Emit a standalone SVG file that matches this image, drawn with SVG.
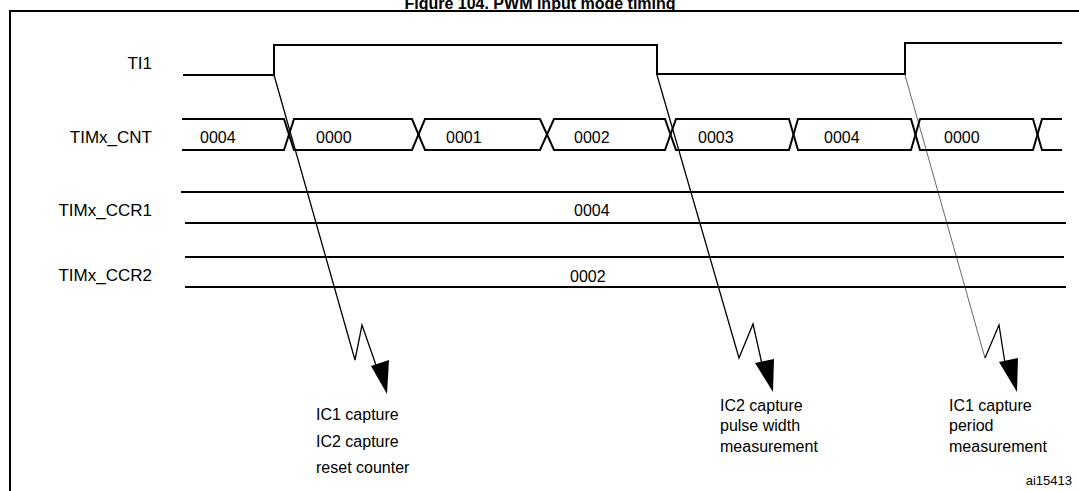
<svg xmlns="http://www.w3.org/2000/svg" width="1079" height="491" viewBox="0 0 1079 491">
<style>
text{font-family:"Liberation Sans",Arial,sans-serif;font-size:16px;fill:#000}
.l{font-size:17px}
.s{fill:none;stroke:#000;stroke-width:2}
.c{fill:none;stroke:#000;stroke-width:1.3}
.t{fill:none;stroke:#000;stroke-width:0.6}
.r{text-anchor:end}
</style>
<rect width="1079" height="491" fill="#fff"/>
<text x="540" y="9" text-anchor="middle" style="font-weight:bold;font-size:16px">Figure 104. PWM input mode timing</text>
<path class="s" d="M10 491 V11 H1079"/>
<g id="labels">
<text class="r l" x="152" y="69">TI1</text>
<text class="r l" x="152" y="143">TIMx_CNT</text>
<text class="r l" x="152" y="216">TIMx_CCR1</text>
<text class="r l" x="152" y="281">TIMx_CCR2</text>
</g>
<g id="TI1"><path class="s" d="M183 75 H274 V45 H657 V74 H905 V43 H1062"/></g>
<g id="CNT">
<path class="s" d="M182 119 H284 L294 150 H412 L425 119 H540 L554 150 H665 L676 119 H789 L798 150 H911 L920 119 H1033 L1042 150 H1062"/>
<path class="s" d="M182 150 H284 L294 119 H412 L425 150 H540 L554 119 H665 L676 150 H789 L798 119 H911 L920 150 H1033 L1042 119 H1062"/>
<text x="200" y="143">0004</text><text x="316" y="143">0000</text><text x="446" y="143">0001</text><text x="574" y="143">0002</text><text x="698" y="143">0003</text><text x="824" y="143">0004</text><text x="944" y="143">0000</text>
</g>
<g id="CCR1"><path class="s" d="M181 192 H1064 M185 223 H1066"/><text x="574" y="216">0004</text></g>
<g id="CCR2"><path class="s" d="M185 257 H1064 M185 287 H1066"/><text x="570" y="282">0002</text></g>
<g id="connectors">
<path class="c" d="M274 75 L355 360 L362 325 L377 368"/>
<polygon points="371,366 389,360 387,394"/>
<path class="c" d="M657 75 L739 358 L753 324 L762 364"/>
<polygon points="755,363 774,359 773,392"/>
<path class="t" d="M905 75 L985 358"/>
<path class="c" d="M985 358 L999 325 L1005 363"/>
<polygon points="999,362 1018,358 1017,392"/>
</g>
<g id="notes">
<text x="316" y="420">IC1 capture</text><text x="316" y="447">IC2 capture</text><text x="316" y="473">reset counter</text>
<text x="720" y="411">IC2 capture</text><text x="720" y="431">pulse width</text><text x="720" y="452">measurement</text>
<text x="949" y="411">IC1 capture</text><text x="949" y="431">period</text><text x="949" y="452">measurement</text>
<text x="1072" y="485" text-anchor="end" style="font-size:13px">ai15413</text>
</g>
</svg>
